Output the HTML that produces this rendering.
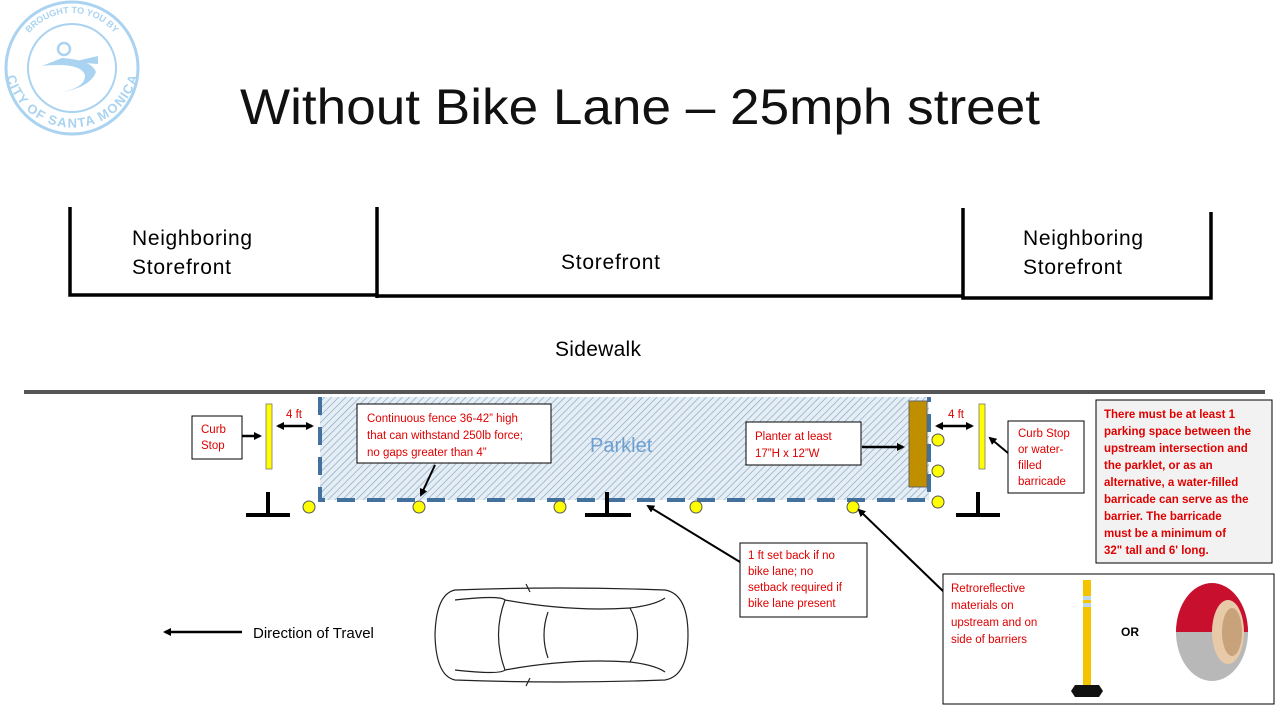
<!DOCTYPE html>
<html><head><meta charset="utf-8"><style>
html,body{margin:0;padding:0;background:#fff;}
svg{display:block;font-family:"Liberation Sans",sans-serif;}
.r{fill:#e00000;font-size:11.5px;}
</style></head><body>
<svg width="1280" height="720" viewBox="0 0 1280 720" xmlns="http://www.w3.org/2000/svg">
<defs>
<pattern id="h" width="5" height="5" patternUnits="userSpaceOnUse" patternTransform="rotate(45)">
<rect width="5" height="5" fill="#e6eef5"/><line x1="0" y1="0" x2="0" y2="5" stroke="#8aa8c4" stroke-width="1.4"/></pattern>
<marker id="a" markerWidth="8" markerHeight="8" refX="6" refY="4" orient="auto" markerUnits="userSpaceOnUse"><path d="M0,0 L8,4 L0,8z" fill="#000"/></marker>
<marker id="b" markerWidth="8" markerHeight="8" refX="2" refY="4" orient="auto" markerUnits="userSpaceOnUse"><path d="M8,0 L0,4 L8,8z" fill="#000"/></marker>
<path id="top" d="M17,68 A55,55 0 0 1 127,68"/>
<path id="bot" d="M14,60 A58,58 0 0 0 130,60"/>
</defs>
<!-- logo -->
<g fill="none" stroke="#a9d3f0">
<circle cx="72" cy="68" r="66" stroke-width="3"/>
<circle cx="72" cy="68" r="44" stroke-width="2"/>
</g>
<path d="M42,66 Q80,62 85,75 Q86,88 58,93 Q90,88 96,72 Q92,60 62,58z" fill="#a9d3f0"/>
<path d="M72,62 L98,56 L98,64z" fill="#a9d3f0"/>
<circle cx="64" cy="49" r="6" fill="none" stroke="#a9d3f0" stroke-width="2.5"/>
<text font-size="9" fill="#a9d3f0" font-weight="bold"><textPath href="#top" startOffset="50%" text-anchor="middle">BROUGHT TO YOU BY</textPath></text>
<text font-size="13" fill="#a9d3f0" font-weight="bold"><textPath href="#bot" startOffset="50%" text-anchor="middle" dominant-baseline="hanging">CITY OF SANTA MONICA</textPath></text>
<!-- title -->
<text x="240" y="124" textLength="800" lengthAdjust="spacingAndGlyphs" font-size="50" fill="#111" font-weight="300">Without Bike Lane – 25mph street</text>
<!-- storefronts -->
<g stroke="#000" stroke-width="3.5" fill="none">
<polyline points="70,207 70,295 377,295"/>
<line x1="377" y1="207" x2="377" y2="298"/>
<line x1="377" y1="296" x2="963" y2="296"/>
<polyline points="963,208 963,298 1211,298 1211,212"/>
</g>
<g font-size="21" fill="#000">
<text x="132" y="245" textLength="120">Neighboring</text><text x="132" y="274" textLength="99">Storefront</text>
<text x="561" y="269" textLength="99">Storefront</text>
<text x="1023" y="245" textLength="120">Neighboring</text><text x="1023" y="274" textLength="99">Storefront</text>
<text x="555" y="356" textLength="86">Sidewalk</text>
</g>
<line x1="24" y1="392" x2="1265" y2="392" stroke="#555" stroke-width="4"/>
<!-- parklet -->
<rect x="320" y="397" width="609" height="103" fill="url(#h)"/>
<polyline points="320,397 320,500 929,500 929,397" fill="none" stroke="#41719c" stroke-width="4" stroke-dasharray="18,12"/>
<text x="590" y="452" font-size="20" fill="#6d9fd1">Parklet</text>
<rect x="909" y="401" width="18" height="86" fill="#bf8f00" stroke="#666" stroke-width="1"/>
<rect x="266" y="404" width="6" height="65" fill="#ffff00" stroke="#777" stroke-width="0.8"/>
<rect x="979" y="404" width="6" height="65" fill="#ffff00" stroke="#777" stroke-width="0.8"/>
<g fill="#ffff00" stroke="#555" stroke-width="1">
<circle cx="309" cy="507" r="6"/><circle cx="419" cy="507" r="6"/><circle cx="560" cy="507" r="6"/>
<circle cx="696" cy="507" r="6"/><circle cx="853" cy="507" r="6"/>
<circle cx="938" cy="440" r="6"/><circle cx="938" cy="471" r="6"/><circle cx="938" cy="502" r="6"/>
</g>
<g stroke="#000" stroke-width="4">
<line x1="246" y1="515" x2="290" y2="515"/><line x1="268" y1="492" x2="268" y2="515"/>
<line x1="585" y1="515" x2="631" y2="515"/><line x1="607" y1="492" x2="607" y2="515"/>
<line x1="956" y1="515" x2="1000" y2="515"/><line x1="978" y1="492" x2="978" y2="515"/>
</g>
<g stroke="#000" stroke-width="2.5">
<line x1="278" y1="426" x2="312" y2="426" marker-start="url(#b)" marker-end="url(#a)"/>
<line x1="937" y1="426" x2="972" y2="426" marker-start="url(#b)" marker-end="url(#a)"/>
<line x1="242" y1="436" x2="260" y2="436" marker-end="url(#a)"/>
<line x1="862" y1="447" x2="903" y2="447" marker-end="url(#a)"/>
</g>
<g stroke="#000" stroke-width="2">
<line x1="435" y1="465" x2="421" y2="495" marker-end="url(#a)"/>
<line x1="1008" y1="453" x2="990" y2="438" marker-end="url(#a)"/>
<line x1="740" y1="562" x2="648" y2="506" marker-end="url(#a)"/>
<line x1="944" y1="592" x2="859" y2="510" marker-end="url(#a)"/>
</g>
<text x="286" y="418" class="r">4 ft</text>
<text x="948" y="418" class="r">4 ft</text>
<g fill="#fff" stroke="#000" stroke-width="1">
<rect x="192" y="416" width="50" height="43"/>
<rect x="357" y="404" width="194" height="59"/>
<rect x="746" y="422" width="115" height="43"/>
<rect x="1008" y="421" width="76" height="72"/>
<rect x="740" y="543" width="127" height="74"/>
<rect x="943" y="574" width="331" height="130"/>
</g>
<rect x="1096" y="400" width="176" height="163" fill="#f2f2f2" stroke="#000" stroke-width="1"/>
<text class="r"><tspan x="201" y="433">Curb</tspan><tspan x="201" y="449">Stop</tspan></text>
<text class="r"><tspan x="367" y="422">Continuous fence 36-42” high</tspan><tspan x="367" y="439">that can withstand 250lb force;</tspan><tspan x="367" y="456">no gaps greater than 4”</tspan></text>
<text class="r"><tspan x="755" y="440">Planter at least</tspan><tspan x="755" y="457">17”H x 12”W</tspan></text>
<text class="r"><tspan x="1018" y="437">Curb Stop</tspan><tspan x="1018" y="453">or water-</tspan><tspan x="1018" y="469">filled</tspan><tspan x="1018" y="485">barricade</tspan></text>
<text class="r"><tspan x="748" y="559">1 ft set back if no</tspan><tspan x="748" y="575">bike lane; no</tspan><tspan x="748" y="591">setback required if</tspan><tspan x="748" y="607">bike lane present</tspan></text>
<text class="r" font-size="12.5"><tspan x="951" y="592">Retroreflective</tspan><tspan x="951" y="609">materials on</tspan><tspan x="951" y="626">upstream and on</tspan><tspan x="951" y="643">side of barriers</tspan></text>
<text class="r" font-weight="bold" font-size="12.5"><tspan x="1104" y="418">There must be at least 1</tspan><tspan x="1104" y="435">parking space between the</tspan><tspan x="1104" y="452">upstream intersection and</tspan><tspan x="1104" y="469">the parklet, or as an</tspan><tspan x="1104" y="486">alternative, a water-filled</tspan><tspan x="1104" y="503">barricade can serve as the</tspan><tspan x="1104" y="520">barrier. The barricade</tspan><tspan x="1104" y="537">must be a minimum of</tspan><tspan x="1104" y="554">32" tall and 6' long.</tspan></text>
<rect x="1083" y="580" width="8" height="105" fill="#f5c400"/>
<rect x="1083" y="596" width="8" height="4" fill="#bcd8ee"/><rect x="1083" y="603" width="8" height="4" fill="#bcd8ee"/>
<path d="M1075,685 L1099,685 L1103,691 L1099,697 L1075,697 L1071,691z" fill="#111"/>
<text x="1121" y="636" font-size="12" font-weight="bold" fill="#000">OR</text>
<ellipse cx="1212" cy="632" rx="36" ry="49" fill="#b8b8b8"/>
<path d="M1176,632 A36,49 0 0 1 1248,632 z" fill="#c8102e"/>
<ellipse cx="1228" cy="632" rx="16" ry="32" fill="#e8c9a8"/>
<ellipse cx="1232" cy="632" rx="10" ry="24" fill="#c8a27a"/>
<line x1="165" y1="632" x2="242" y2="632" stroke="#000" stroke-width="2.5" marker-start="url(#b)"/>
<text x="253" y="638" font-size="15" fill="#000">Direction of Travel</text>
<g fill="none" stroke="#222" stroke-width="1.2">
<path d="M455,590 Q560,586 665,590 Q688,594 688,635 Q688,676 665,680 Q560,684 455,680 Q436,676 435,635 Q436,594 455,590z"/>
<path d="M505,600 Q570,612 630,608 Q645,635 630,662 Q570,658 505,670 Q492,635 505,600z"/>
<path d="M548,612 Q540,635 548,658"/>
<path d="M630,608 Q655,605 665,598 M630,662 Q655,665 665,672"/>
<path d="M455,600 Q500,595 505,600 M455,670 Q500,675 505,670"/>
<line x1="526" y1="584" x2="530" y2="592"/><line x1="526" y1="686" x2="530" y2="678"/>
</g>
</svg>
</body></html>
